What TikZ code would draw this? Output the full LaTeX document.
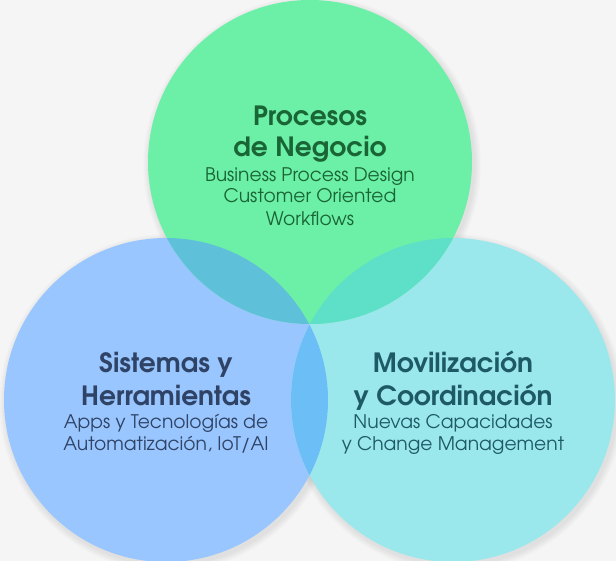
\documentclass[tikz,border=0pt]{standalone}
\usepackage{fontspec}
\setmainfont{texgyreadventor}[Extension=.otf,UprightFont=*-regular,BoldFont=*-bold]
\definecolor{bg}{HTML}{F5F5F5}
\definecolor{cG}{HTML}{6CF0A7}
\definecolor{cB}{HTML}{99C6FE}
\definecolor{cC}{HTML}{9BE8EC}
\definecolor{cGB}{HTML}{5FC0D9}
\definecolor{cGC}{HTML}{5EDFC8}
\definecolor{cBC}{HTML}{6CBEF7}
\definecolor{cGBC}{HTML}{5CC4E0}
\definecolor{tG}{HTML}{1A6535}
\definecolor{tB}{HTML}{2F4366}
\definecolor{tC}{HTML}{1E5A66}
\tikzset{
  title/.style={anchor=base,font=\fontsize{26.5}{30}\selectfont\bfseries},
  sub/.style={anchor=base,font=\fontsize{18.7}{22}\selectfont},
}
\begin{document}
\begin{tikzpicture}[x=1pt,y=-1pt]
\fill[bg] (0,0) rectangle (616,561);
\useasboundingbox (0,0) rectangle (616,561);
\coordinate (G) at (310,162);
\coordinate (B) at (166,400);
\coordinate (C) at (453,400);
\def\R{162}
% soft shadows
\foreach \i in {1,...,7}{
  \fill[black,opacity=0.012] ([shift={(2,3)}]G) circle (\R+\i);
  \fill[black,opacity=0.012] ([shift={(2,3)}]B) circle (\R+\i);
  \fill[black,opacity=0.012] ([shift={(2,3)}]C) circle (\R+\i);
}
\fill[cB] (B) circle (\R);
\fill[cC] (C) circle (\R);
\fill[cG] (G) circle (\R);
\begin{scope}\clip (G) circle (\R); \fill[cGB] (B) circle (\R);\end{scope}
\begin{scope}\clip (G) circle (\R); \fill[cGC] (C) circle (\R);\end{scope}
\begin{scope}\clip (B) circle (\R); \fill[cBC] (C) circle (\R);\end{scope}
\begin{scope}\clip (B) circle (\R); \clip (C) circle (\R); \fill[cGBC] (G) circle (\R);\end{scope}
% top
\node[title,text=tG] (g1) at (310,126) {Procesos};
\node[title,text=tG] (g2) at (310,157) {de Negocio};
\node[sub,text=tG] (g3) at (310,182) {Business Process Design};
\node[sub,text=tG] (g4) at (310,203) {Customer Oriented};
\node[sub,text=tG] (g5) at (310,226) {Workflows};
% left
\node[title,text=tB] (b1) at (166,373) {Sistemas y};
\node[title,text=tB] (b2) at (166,406) {Herramientas};
\node[sub,text=tB] (b3) at (166,428) {Apps y Tecnologías de};
\node[sub,text=tB] (b4) at (166,450) {Automatización, IoT/AI};
% right
\node[title,text=tC] (c1) at (453,373) {Movilización};
\node[title,text=tC] (c2) at (453,406) {y Coordinación};
\node[sub,text=tC] (c3) at (453,428) {Nuevas Capacidades};
\node[sub,text=tC] (c4) at (453,450) {y Change Management};
\end{tikzpicture}
\end{document}
